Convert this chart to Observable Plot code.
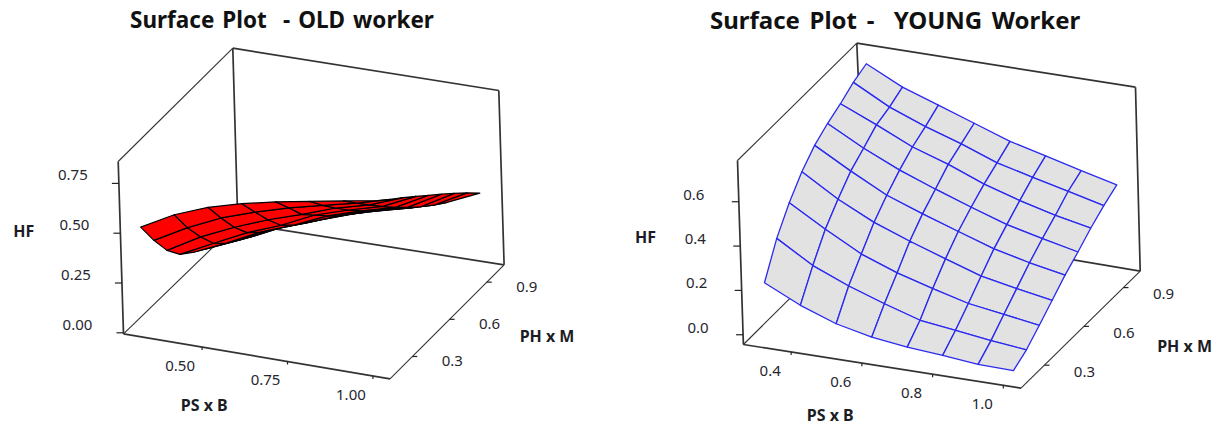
<!DOCTYPE html>
<html><head><meta charset="utf-8">
<script src="https://cdn.jsdelivr.net/npm/d3@7"></script>
<script src="https://cdn.jsdelivr.net/npm/@observablehq/plot@0.6"></script>
<style>
html,body{margin:0;padding:0;background:#fff}
#wrap{display:flex;width:1222px}
.panel{width:611px;position:relative}
.panel h2{margin:0;height:36px;font-family:"Noto Sans",sans-serif;font-weight:bold;line-height:40px;color:#111;white-space:pre;text-align:left;position:relative}
.panel svg{display:block}
</style></head><body><div id="wrap"></div>
<script>
// Grid of the fitted surface
const psGrid = [0.3,0.4,0.5,0.6,0.7,0.8,0.9,1.0];
const phGrid = [0.2,0.3,0.4,0.5,0.6,0.7,0.8,0.9,1.0];

// HF values: one row per PH, one column per PS
const hfOld = [
 [ .490,.581,.647,.694,.732,.763,.794,.825],
 [ .363,.455,.532,.590,.640,.681,.720,.768],
 [ .252,.348,.424,.490,.545,.605,.649,.714],
 [ .172,.255,.336,.401,.480,.533,.579,.657],
 [ .121,.195,.278,.340,.414,.467,.512,.600],
 [ .077,.149,.230,.290,.355,.408,.451,.543],
 [ .036,.106,.186,.243,.301,.349,.391,.485],
 [ .000,.068,.146,.200,.249,.292,.337,.425],
 [-.040,.034,.102,.156,.200,.235,.288,.362]
];
const hfYoung = [
 [.197,.120,.062,.027,.007,-.005,-.020,-.023],
 [.338,.240,.173,.118,.069,.049,.028,.012],
 [.440,.345,.258,.198,.153,.111,.087,.064],
 [.521,.422,.342,.282,.228,.176,.145,.118],
 [.582,.490,.406,.347,.293,.240,.203,.173],
 [.622,.535,.461,.400,.344,.291,.254,.219],
 [.653,.582,.507,.454,.390,.341,.300,.269],
 [.691,.604,.541,.488,.428,.388,.351,.312],
 [.717,.636,.580,.523,.467,.427,.386,.348]
];

// Tick values
const hfTicksOld = [0,0.25,0.5,0.75];
const psTicksOld = [0.5,0.75,1.0];
const phTicksOld = [0.3,0.6,0.9];
const hfTicksYoung = [0,0.2,0.4,0.6];
const psTicksYoung = [0.4,0.6,0.8,1.0];
const phTicksYoung = [0.3,0.6,0.9];

// Viewing set-up of each 3-D box (where the eight box corners land on the page)
const panels = [
 {title:"Surface Plot  - OLD worker", titleLeft:130, titleSize:22.5, wordSpacing:2.2, xDomain:[0,611],
  ps:[.27,1.05], ph:[.12,1.04], hf:[-.005,.86],
  A:[123,333.3],B:[389.5,378.3],C:[503.6,264.3],D:[237.3,222.7],
  At:[117.7,161],Bt:[384,206],Ct:[498.3,90],Dt:[232.3,47.7],
  grid:hfOld, fill:"#ff0000", line:"#000000", gridWidth:1.2,
  hfTicks:hfTicksOld, psTicks:psTicksOld, phTicks:phTicksOld, fmtHf:".2f", fmtPs:".2f",
  hfLab:[-46,-8], psLab:[-22,19], phLab:[40,5],
  hfT:[-97,-16], psT:[-52.5,50], phT:[100,15]},
 {title:"Surface Plot -  YOUNG Worker", titleLeft:710, titleSize:24, wordSpacing:3.4, xDomain:[611,1222],
  ps:[.265,1.05], ph:[.122,1.027], hf:[-.044,.786],
  A:[742.9,344],B:[1020.5,387.7],C:[1139.7,270.7],D:[864.1,224],
  At:[737,160],Bt:[1015.4,201],Ct:[1135,86.7],Dt:[856.3,42.7],
  grid:hfYoung, fill:"#e2e2e2", line:"#2a2af0", gridWidth:1.3,
  hfTicks:hfTicksYoung, psTicks:psTicksYoung, phTicks:phTicksYoung, fmtHf:".1f", fmtPs:".1f",
  hfLab:[-45,-7], psLab:[-21,19], phLab:[40,7],
  hfT:[-95,-15], psT:[-52,50], phT:[104,17]}
];

const mix=(a,b,t)=>[a[0]+(b[0]-a[0])*t,a[1]+(b[1]-a[1])*t];
function projector(c){
  return (ps,ph,hf)=>{
    const u=(ps-c.ps[0])/(c.ps[1]-c.ps[0]), v=(ph-c.ph[0])/(c.ph[1]-c.ph[0]), w=(hf-c.hf[0])/(c.hf[1]-c.hf[0]);
    const base=mix(mix(c.A,c.B,u),mix(c.D,c.C,u),v);
    const top =mix(mix(c.At,c.Bt,u),mix(c.Dt,c.Ct,u),v);
    const p=mix(base,top,w);
    return {x:p[0],y:p[1]};
  };
}

const FONT='"Noto Sans",sans-serif', INK="#26262e";
const wrap=document.getElementById("wrap");

panels.forEach(c=>{
  const P=projector(c);
  const [p0,p1]=c.ps,[h0,h1]=c.ph,[f0,f1]=c.hf;
  // box edges: the receding ones are drawn thinner
  const edges=[
    [[p0,h0,f0],[p0,h0,f1],1.7],[[p0,h0,f1],[p0,h1,f1],1.1],[[p0,h1,f1],[p0,h1,f0],1.7],
    [[p0,h1,f1],[p1,h1,f1],1.7],[[p1,h1,f1],[p1,h1,f0],1.7],
    [[p0,h0,f0],[p1,h0,f0],1.7],[[p1,h0,f0],[p1,h1,f0],1.1],
    [[p0,h0,f0],[p0,h1,f0],1.1],[[p0,h1,f0],[p1,h1,f0],1.7]
  ].map(([a,b,w])=>{const s=P(...a),e=P(...b);return {x1:s.x,y1:s.y,x2:e.x,y2:e.y,w};});
  // surface cells, far ones first
  const cells=[];
  for(let i=phGrid.length-2;i>=0;i--) for(let j=0;j<psGrid.length-1;j++){
    cells.push({i,j,d:(j/7)-(i/8)});
  }
  cells.sort((a,b)=>a.d-b.d);
  const poly=[];
  cells.forEach(({i,j},k)=>{
    [[i,j],[i,j+1],[i+1,j+1],[i+1,j],[i,j]].forEach(([r,s])=>{
      const q=P(psGrid[s],phGrid[r],c.grid[r][s]);
      poly.push({cell:k,x:q.x,y:q.y});
    });
  });
  const hfT=c.hfTicks.map(t=>({t,...P(p0,h0,t)}));
  const psT=c.psTicks.map(t=>({t,...P(t,h0,f0)}));
  const phT=c.phTicks.map(t=>({t,...P(p1,t,f0)}));
  const txt={fontFamily:FONT,fontSize:15,fill:INK,stroke:null};
  const ttl={fontFamily:FONT,fontSize:16,fontWeight:"bold",fill:"#1c1c24"};
  const hfMid=P(p0,h0,(f0+f1)/2), psMid=P((p0+p1)/2,h0,f0), phMid=P(p1,(h0+h1)/2,f0);

  const svg=Plot.plot({
    width:611,height:389,margin:0,
    style:{background:"#fff"},
    x:{domain:c.xDomain,axis:null},
    y:{domain:[425,36],axis:null},
    marks:[
      Plot.link(edges,{x1:"x1",y1:"y1",x2:"x2",y2:"y2",stroke:"#333",strokeWidth:"w"}),
      Plot.link(hfT,{x1:d=>d.x-7,x2:"x",y1:"y",y2:"y",stroke:"#222",strokeWidth:1.2}),
      Plot.link(psT,{x1:"x",x2:"x",y1:"y",y2:d=>d.y+3,stroke:"#222",strokeWidth:1.2}),
      Plot.link(phT,{x1:"x",x2:d=>d.x+5,y1:"y",y2:"y",stroke:"#222",strokeWidth:1.2}),
      Plot.line(poly,{x:"x",y:"y",z:"cell",fill:c.fill,stroke:c.line,strokeWidth:c.gridWidth,curve:"linear",strokeLinejoin:"round"}),
      Plot.text(hfT,{x:"x",y:"y",dx:c.hfLab[0],dy:c.hfLab[1],text:d=>d3.format(c.fmtHf)(d.t),...txt}),
      Plot.text(psT,{x:"x",y:"y",dx:c.psLab[0],dy:c.psLab[1],text:d=>d3.format(c.fmtPs)(d.t),...txt}),
      Plot.text(phT,{x:"x",y:"y",dx:c.phLab[0],dy:c.phLab[1],text:d=>d3.format(".1f")(d.t),...txt}),
      Plot.text([hfMid],{x:"x",y:"y",dx:c.hfT[0],dy:c.hfT[1],text:()=>"HF",...ttl}),
      Plot.text([psMid],{x:"x",y:"y",dx:c.psT[0],dy:c.psT[1],text:()=>"PS x B",...ttl}),
      Plot.text([phMid],{x:"x",y:"y",dx:c.phT[0],dy:c.phT[1],text:()=>"PH x M",...ttl})
    ]
  });
  const div=document.createElement("div");div.className="panel";
  const h=document.createElement("h2");h.textContent=c.title;
  h.style.left=(c.titleLeft-c.xDomain[0])+"px";
  h.style.fontSize=c.titleSize+"px";
  h.style.wordSpacing=c.wordSpacing+"px";
  div.appendChild(h);div.appendChild(svg);wrap.appendChild(div);
});
</script></body></html>
